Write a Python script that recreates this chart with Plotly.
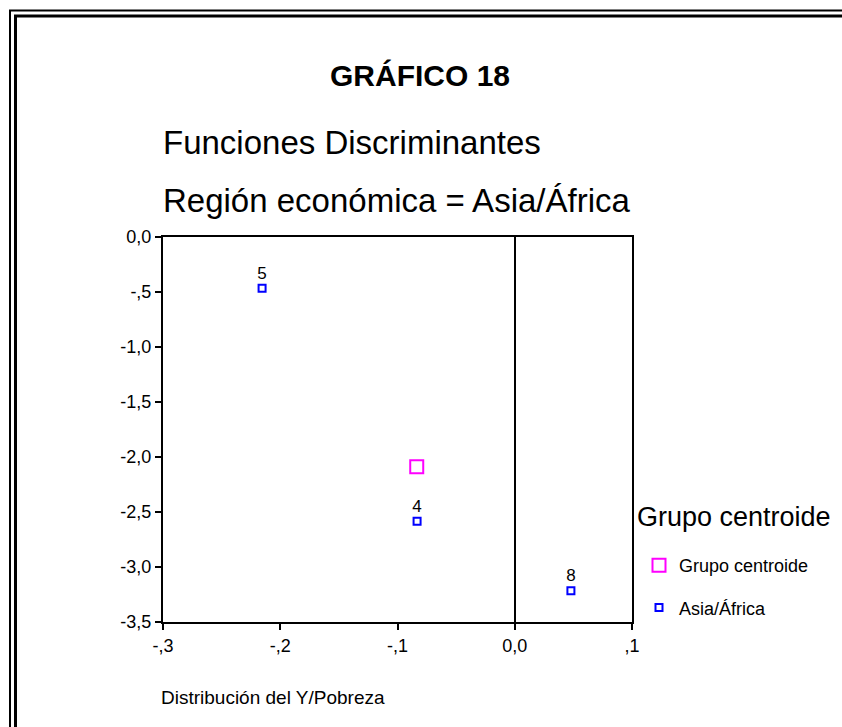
import plotly.graph_objects as go

# ---- data ----
case_labels = ["5", "4", "8"]
case_x = [-0.2155, -0.0833, 0.0479]
case_y = [-0.466, -2.585, -3.215]
centroid_x = [-0.0836]
centroid_y = [-2.089]
x_tickvals = [-0.3, -0.2, -0.1, 0.0, 0.1]
x_ticktext = ["-,3", "-,2", "-,1", "0,0", ",1"]
y_tickvals = [0.0, -0.5, -1.0, -1.5, -2.0, -2.5, -3.0, -3.5]
y_ticktext = ["0,0", "-,5", "-1,0", "-1,5", "-2,0", "-2,5", "-3,0", "-3,5"]

W, H = 842, 727
L, R, T, B = 163, 632, 237, 622
FONT = "Liberation Sans, Arial, sans-serif"


def px(x):
    return (x - L) / (R - L)


def py(y):
    return (B - y) / (B - T)


fig = go.Figure()
fig.add_trace(go.Scatter(
    x=centroid_x, y=centroid_y, mode="markers", name="Grupo centroide",
    legendgroup="c",
    marker=dict(symbol="square-open", size=13, color="#FF00FF",
                line=dict(width=2, color="#FF00FF")),
))
fig.add_trace(go.Scatter(
    x=case_x, y=case_y, mode="markers+text", name="Asia/África",
    legendgroup="a",
    text=case_labels, textposition="top center",
    textfont=dict(family=FONT, size=17, color="black"),
    marker=dict(symbol="square-open", size=7, color="#0000FF",
                line=dict(width=2, color="#0000FF")),
))

shapes = [
    dict(type="rect", xref="paper", yref="paper",
         x0=px(10), y0=py(10.5), x1=px(900), y1=py(800),
         line=dict(color="black", width=2), fillcolor="rgba(0,0,0,0)"),
    dict(type="rect", xref="paper", yref="paper",
         x0=px(15.5), y0=py(16), x1=px(895), y1=py(795),
         line=dict(color="black", width=3), fillcolor="rgba(0,0,0,0)"),
]

annotations = [
    dict(text="<b>GRÁFICO 18</b>", xref="paper", yref="paper",
         x=px(420), y=py(75), xanchor="center", yanchor="middle",
         showarrow=False, font=dict(family=FONT, size=30, color="black")),
    dict(text="Funciones Discriminantes", xref="paper", yref="paper",
         x=px(161), y=py(142), xanchor="left", yanchor="middle",
         showarrow=False, font=dict(family=FONT, size=33, color="black")),
    dict(text="Región económica = Asia/África", xref="paper", yref="paper",
         x=px(161), y=py(200), xanchor="left", yanchor="middle",
         showarrow=False, font=dict(family=FONT, size=33, color="black")),
    dict(text="Distribución del Y/Pobreza", xref="paper", yref="paper",
         x=px(159), y=py(697), xanchor="left", yanchor="middle",
         showarrow=False, font=dict(family=FONT, size=19, color="black")),
    dict(text="Grupo centroide", xref="paper", yref="paper",
         x=px(635), y=py(517), xanchor="left", yanchor="middle",
         showarrow=False, font=dict(family=FONT, size=27, color="black")),
]

fig.update_layout(
    width=W, height=H,
    margin=dict(l=L, r=W - R, t=T, b=H - B, autoexpand=False),
    paper_bgcolor="white", plot_bgcolor="white",
    font=dict(family=FONT, color="black"),
    showlegend=True,
    legend=dict(
        x=px(639), xanchor="left", y=py(547), yanchor="top",
        font=dict(family=FONT, size=18, color="black"),
        tracegroupgap=16, bgcolor="rgba(0,0,0,0)",
    ),
    shapes=shapes,
    annotations=annotations,
    xaxis=dict(range=[-0.3, 0.1], tickvals=x_tickvals, ticktext=x_ticktext,
               showgrid=False, zeroline=True, zerolinecolor="black", zerolinewidth=2,
               showline=True, linecolor="black", linewidth=2, mirror=True,
               ticks="outside", ticklen=6, tickwidth=1.5, tickcolor="black",
               tickfont=dict(family=FONT, size=18, color="black")),
    yaxis=dict(range=[-3.5, 0.0], tickvals=y_tickvals, ticktext=y_ticktext,
               showgrid=False, zeroline=False,
               showline=True, linecolor="black", linewidth=2, mirror=True,
               ticks="outside", ticklen=6, tickwidth=1.5, tickcolor="black",
               tickfont=dict(family=FONT, size=18, color="black")),
)

fig.write_html("out.html", config={"displayModeBar": False},
               post_script="document.body.style.margin='0px';")
